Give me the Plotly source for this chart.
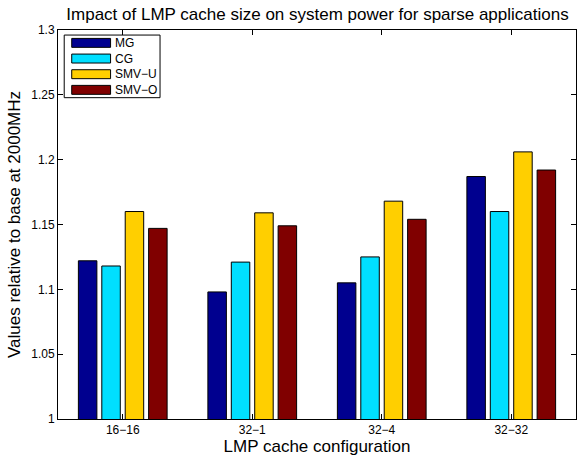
import plotly.graph_objects as go

# Cache configurations (x categories)
configs = ["16\u221216", "32\u22121", "32\u22124", "32\u221232"]

# Power relative to the 2000 MHz baseline, per application
mg = [1.122, 1.098, 1.105, 1.187]
cg = [1.118, 1.121, 1.125, 1.160]
smv_u = [1.160, 1.159, 1.168, 1.206]
smv_o = [1.147, 1.149, 1.154, 1.192]

series_names = ["MG", "CG", "SMV\u2212U", "SMV\u2212O"]
series_values = [mg, cg, smv_u, smv_o]
series_colors = ["#00008F", "#00DFFF", "#FFCF00", "#800000"]

y_ticks = [1, 1.05, 1.1, 1.15, 1.2, 1.25, 1.3]
y_tick_text = ["1", "1.05", "1.1", "1.15", "1.2", "1.25", "1.3"]

FONT = "Liberation Sans, Arial, Helvetica, sans-serif"

fig = go.Figure()
for name, vals, color in zip(series_names, series_values, series_colors):
    fig.add_trace(go.Bar(
        x=configs, y=vals, name=name,
        marker=dict(color=color, line=dict(color="black", width=1)),
        showlegend=False,
    ))

# Legend box drawn as a framed panel with wide colour swatches
legend_left, legend_right = 0.0120, 0.1970   # paper x
legend_top, legend_bottom = 0.987, 0.826     # paper y
fig.add_shape(type="rect", xref="paper", yref="paper",
              x0=legend_left, x1=legend_right, y0=legend_bottom, y1=legend_top,
              line=dict(color="black", width=1), fillcolor="white", layer="above")
row_h = (legend_top - legend_bottom) / len(series_names)
for i, (name, color) in enumerate(zip(series_names, series_colors)):
    yc = legend_top - row_h * (i + 0.5)
    fig.add_shape(type="rect", xref="paper", yref="paper",
                  x0=0.0265, x1=0.1015, y0=yc - 0.0115, y1=yc + 0.0115,
                  line=dict(color="black", width=1), fillcolor=color, layer="above")
    fig.add_annotation(xref="paper", yref="paper", x=0.107, y=yc,
                       text=name, showarrow=False, xanchor="left", yanchor="middle",
                       font=dict(family=FONT, size=12, color="black"))

fig.update_layout(
    width=577, height=456,
    margin=dict(l=58, r=1, t=30, b=37),
    paper_bgcolor="white", plot_bgcolor="white",
    barmode="group", bargap=0.277, bargroupgap=0.21,
    font=dict(family=FONT, size=12, color="black"),
    title=dict(text="Impact of LMP cache size on system power for sparse applications",
               x=0.5503, xanchor="center", y=0.970, yanchor="middle",
               font=dict(family=FONT, size=17, color="black")),
    xaxis=dict(
        range=[-0.5, 3.5], showline=True, linecolor="black", linewidth=1,
        mirror="ticks", ticks="inside", ticklen=5, tickcolor="black",
        showgrid=False, zeroline=False,
        title=dict(text="LMP cache configuration", standoff=2,
                   font=dict(family=FONT, size=17, color="black")),
    ),
    yaxis=dict(
        range=[1, 1.3], showline=True, linecolor="black", linewidth=1,
        mirror="ticks", ticks="inside", ticklen=5, tickcolor="black",
        tickvals=y_ticks, ticktext=y_tick_text,
        showgrid=False, zeroline=False,
        title=dict(text="Values relative to base at 2000MHz", standoff=6,
                   font=dict(family=FONT, size=17, color="black")),
    ),
)

fig.write_html("out.html")
